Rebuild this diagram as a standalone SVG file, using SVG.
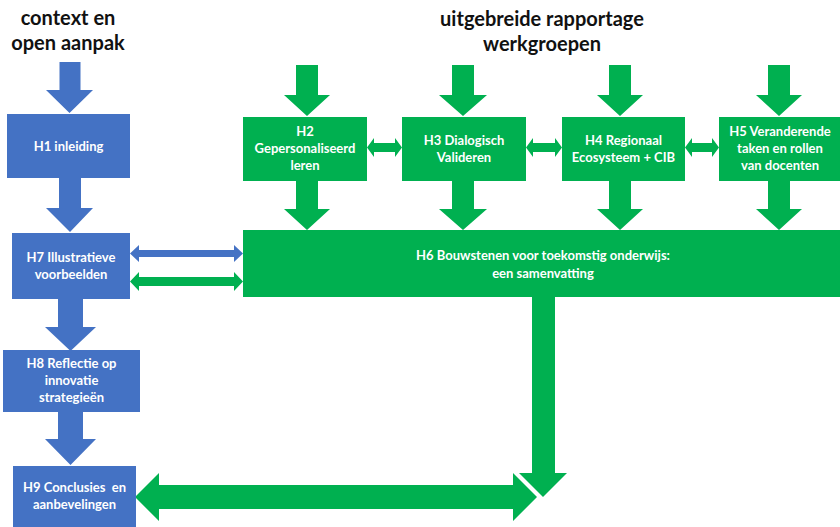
<svg xmlns="http://www.w3.org/2000/svg" width="840" height="527" viewBox="0 0 840 527">
<style>
.blue{fill:#4472C4}
.green{fill:#00B050}
.title{font-family:Lato,"Open Sans","Liberation Sans",sans-serif;font-weight:bold;font-size:20px;fill:#111111;text-anchor:middle}
.lbl{font-family:Lato,"Open Sans","Liberation Sans",sans-serif;font-weight:bold;font-size:13px;fill:#ffffff;text-anchor:middle}
</style>
<rect width="840" height="527" fill="#ffffff"/>
<g id="titles">
<text class="title" x="68" y="25">context en</text>
<text class="title" x="68" y="50">open aanpak</text>
<text class="title" x="542" y="26">uitgebreide rapportage</text>
<text class="title" x="542" y="51">werkgroepen</text>
</g>
<g id="connectors">
<path class="blue" d="M59.5,62 H80.5 V90 H93 L69.5,113 L46,90 H59.5 Z"/>
<path class="blue" d="M59,178 H81 V208 H93 L70,232 L46,208 H59 Z"/>
<path class="blue" d="M58,299 H83 V327 H96 L70.5,351 L45,327 H58 Z"/>
<path class="blue" d="M58,412 H83 V439 H96 L70.5,465 L45,439 H58 Z"/>
<path class="green" d="M296,65 H318 V95 H330 L307,116 L284,95 H296 Z"/>
<path class="green" d="M452,65 H474 V95 H487 L463,116 L439,95 H452 Z"/>
<path class="green" d="M609,65 H631 V95 H643 L620,116 L597,95 H609 Z"/>
<path class="green" d="M768,65 H790 V95 H802 L779,116 L756,95 H768 Z"/>
<path class="green" d="M296,181 H318 V209 H330 L307,230 L284,209 H296 Z"/>
<path class="green" d="M452,181 H474 V209 H487 L463,230 L439,209 H452 Z"/>
<path class="green" d="M609,181 H631 V209 H643 L620,230 L597,209 H609 Z"/>
<path class="green" d="M768,181 H790 V209 H802 L779,230 L756,209 H768 Z"/>
<path class="green" d="M367,147.5 L374,138 V143 H395 V138 L402,147.5 L395,157 V152 H374 V157 Z"/>
<path class="green" d="M526,147.5 L533,138 V143 H555 V138 L562,147.5 L555,157 V152 H533 V157 Z"/>
<path class="green" d="M685,147.5 L692,138 V143 H712 V138 L719,147.5 L712,157 V152 H692 V157 Z"/>
<path class="blue" d="M130,253.5 L139,245 V250 H234 V245 L243,253.5 L234,262 V257 H139 V262 Z"/>
<path class="green" d="M130,281.5 L139,272 V277 H234 V272 L243,281.5 L234,291 V286 H139 V291 Z"/>
<path class="green" d="M135,497 L159,473 V485 H513 V473 L537,497 L513,521 V509 H159 V521 Z"/>
<path class="green" d="M532,296 H555 V473 H567 L543,497 L519,473 H532 Z"/>
<line x1="517" y1="473" x2="542" y2="498" stroke="#ffffff" stroke-width="1.6"/>
</g>
<g id="H1">
<rect class="blue" x="7" y="114" width="123" height="64"/>
<text class="lbl" x="68.5" y="150.5">H1 inleiding</text>
</g>
<g id="H7">
<rect class="blue" x="12" y="233" width="118" height="66"/>
<text class="lbl" x="71" y="262">H7 Illustratieve</text>
<text class="lbl" x="71" y="279">voorbeelden</text>
</g>
<g id="H8">
<rect class="blue" x="3" y="350" width="137" height="62"/>
<text class="lbl" x="71.5" y="368">H8 Reflectie op</text>
<text class="lbl" x="71.5" y="385">innovatie</text>
<text class="lbl" x="71.5" y="402">strategieën</text>
</g>
<g id="H9">
<rect class="blue" x="13" y="466" width="123" height="61"/>
<text class="lbl" x="74.5" y="492" style="white-space:pre">H9 Conclusies  en</text>
<text class="lbl" x="74.5" y="509">aanbevelingen</text>
</g>
<g id="H2">
<rect class="green" x="243" y="117" width="124" height="64"/>
<text class="lbl" x="305" y="136">H2</text>
<text class="lbl" x="305" y="153">Gepersonaliseerd</text>
<text class="lbl" x="305" y="170">leren</text>
</g>
<g id="H3">
<rect class="green" x="402" y="117" width="124" height="64"/>
<text class="lbl" x="464" y="144.5">H3 Dialogisch</text>
<text class="lbl" x="464" y="161.5">Valideren</text>
</g>
<g id="H4">
<rect class="green" x="562" y="117" width="123" height="64"/>
<text class="lbl" x="623.5" y="144.5">H4 Regionaal</text>
<text class="lbl" x="623.5" y="161.5">Ecosysteem + CIB</text>
</g>
<g id="H5">
<rect class="green" x="719" y="117" width="121" height="64"/>
<text class="lbl" x="780" y="136">H5 Veranderende</text>
<text class="lbl" x="780" y="153">taken en rollen</text>
<text class="lbl" x="780" y="170">van docenten</text>
</g>
<g id="H6">
<rect class="green" x="243" y="230" width="597" height="67"/>
<text class="lbl" x="543" y="260">H6 Bouwstenen voor toekomstig onderwijs:</text>
<text class="lbl" x="543" y="278">een samenvatting</text>
</g>
</svg>
